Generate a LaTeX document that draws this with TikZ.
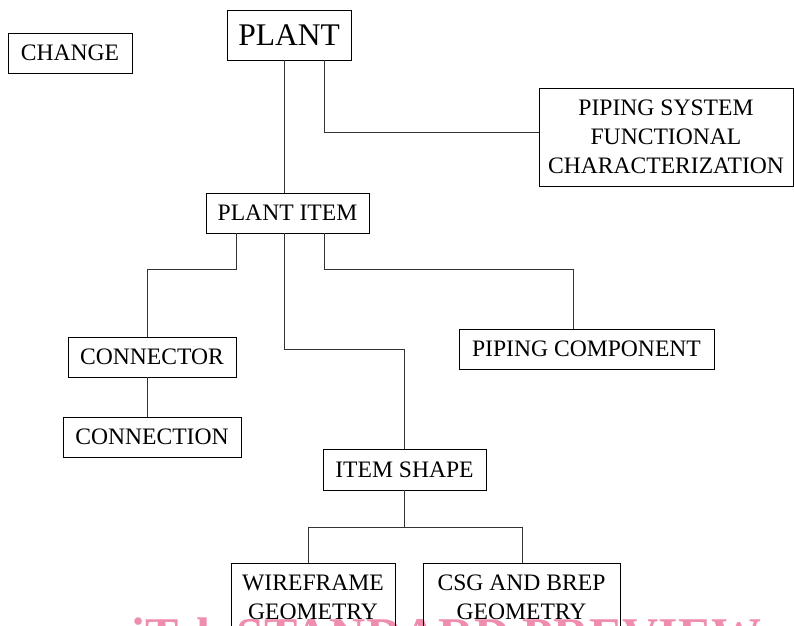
\documentclass[tikz,border=0pt]{standalone}
\usepackage{fontspec}
\setmainfont{Liberation Serif}
\usetikzlibrary{calc,positioning}
\definecolor{markpink}{HTML}{EF8DB0}
\definecolor{linkgray}{HTML}{333333}
\tikzset{
    entity/.style={
        rectangle, draw=black, line width=0.9pt,
        minimum height=40pt, inner sep=3pt, align=center,
        font=\fontsize{23.6}{29}\selectfont
    },
    link/.style={
        line width=0.9pt, draw=linkgray
    },
}

\begin{document}
\begin{tikzpicture}[x=1pt, y=1pt]
    \useasboundingbox (0,0) rectangle (794,-625);
    \clip (0,0) rectangle (794,-625);

    % Watermark
    \node[anchor=base west, inner sep=0pt, text=markpink,
        font=\fontsize{50}{60}\selectfont\bfseries] (mark) at (131,-652) {iTeh STANDARD PREVIEW};

    \node[entity, minimum width=124pt] (change) at (70,-53) {CHANGE};
    \node[entity, minimum width=124pt, minimum height=50pt, font=\fontsize{31.5}{36}\selectfont] (plant) at (289,-35) {PLANT};
    \node[entity, minimum width=254pt, minimum height=98pt] (pipesys) at (666,-137) {
        PIPING SYSTEM\\FUNCTIONAL\\CHARACTERIZATION
    };
    \node[entity, minimum width=163pt] (item) at (287.5,-213) {PLANT ITEM};
    \node[entity, minimum width=168pt] (connector) at (152,-357) {CONNECTOR};
    \node[entity, minimum width=178pt] (connection) at (152,-437) {CONNECTION};
    \node[entity, minimum width=255pt] (pipecomp) at (586.5,-349) {PIPING COMPONENT};
    \node[entity, minimum width=163pt, minimum height=41pt] (shape) at (404.5,-469.5) {ITEM SHAPE};
    \node[entity, minimum width=164pt, anchor=north, inner ysep=11pt] (wire) at (313,-563) {
        WIREFRAME\\GEOMETRY
    };
    \node[entity, minimum width=197pt, anchor=north, inner ysep=11pt] (csg) at (521.5,-563) {
        CSG AND BREP\\GEOMETRY
    };

    \draw[link] ([xshift=-5pt]plant.south) -- ([xshift=-5pt]plant.south |- item.north);
    \draw[link] ([xshift=35pt]plant.south) |- ([yshift=5pt]pipesys.west);
    \draw[link] ([xshift=-51.5pt]item.south) -- ++(0,-36) -| ([xshift=-5pt]connector.north);
    \draw[link] ([xshift=-3.5pt]item.south) -- ++(0,-116) -| (shape.north);
    \draw[link] ([xshift=36.5pt]item.south) -- ++(0,-36) -| ([xshift=-13.5pt]pipecomp.north);
    \draw[link] ([xshift=-5pt]connector.south) -- ([xshift=-5pt]connector.south |- connection.north);
    \draw[link] (shape.south) -- ++(0,-37) coordinate (fork);
    \draw[link] ([xshift=-5pt]wire.north) |- (fork) -| ([xshift=0.5pt]csg.north);
\end{tikzpicture}
\end{document}
